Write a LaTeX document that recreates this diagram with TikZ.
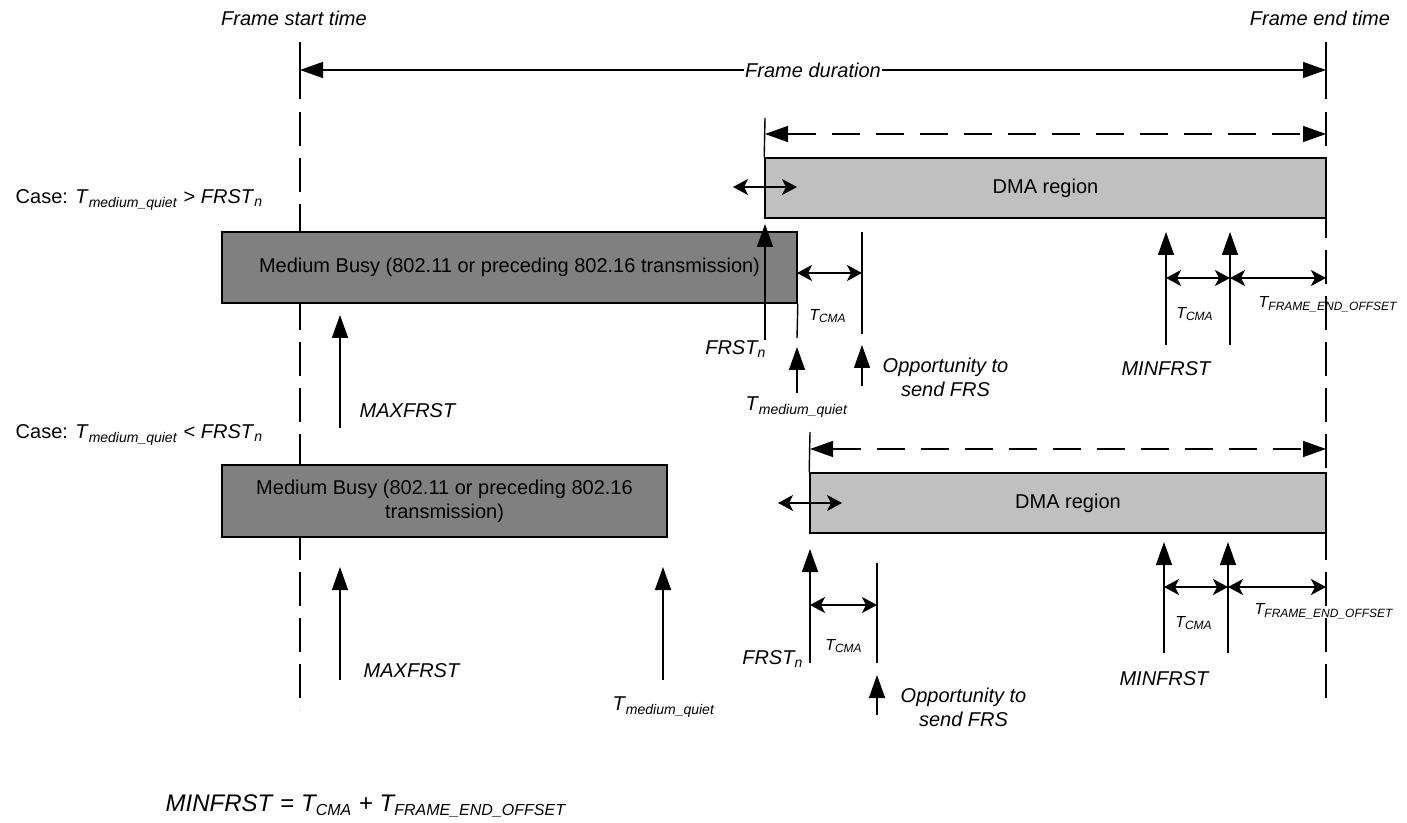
\documentclass[tikz,border=0pt]{standalone}
\usepackage{fontspec}
\setmainfont{Liberation Sans}
\usetikzlibrary{arrows.meta}
\definecolor{busygray}{HTML}{808080}
\definecolor{dmagray}{HTML}{C0C0C0}
\newcommand{\Tmq}{\textit{T}\textsubscript{\textit{medium\_quiet}}}
\newcommand{\Tcma}{\textit{T}\textsubscript{\textit{CMA}}}
\newcommand{\Tfeo}{\textit{T}\textsubscript{\textit{FRAME\_END\_OFFSET}}}

\begin{document}
\begin{tikzpicture}[x=0.5pt,y=-0.5pt,line width=0.7pt,
    marker/.style={-{Triangle[length=11.5pt,width=8pt]}},
    duration/.style={{Triangle[length=11.5pt,width=8pt]}-{Triangle[length=11.5pt,width=8pt]}},
    span/.style={{Stealth[length=7.5pt,width=8pt,inset=2pt]}-{Stealth[length=7.5pt,width=8pt,inset=2pt]}},
    frameline/.style={dash pattern=on 17pt off 6pt},
    busy/.style={draw,line width=0.8pt,fill=busygray,inner sep=0pt,align=center},
    dma/.style={draw,line width=0.8pt,fill=dmagray,inner sep=0pt},
    lbl/.style={font=\itshape,inner sep=0pt},
    small lbl/.style={font=\footnotesize\itshape,inner sep=0pt},
  ]
\useasboundingbox (0,0) rectangle (1407,823);

\coordinate (fs top) at (300,42);
\coordinate (fs tick) at (300,99);
\coordinate (fs dash) at (300,112);
\coordinate (fs bot) at (300,710);
\coordinate (fe top) at (1326,42);
\coordinate (fe tick) at (1326,99);
\coordinate (fe dash) at (1326,112);
\coordinate (fe bot) at (1326,706);
\coordinate (fs dur) at (300,70);
\coordinate (fe dur) at (1326,70);

\draw (fs top) -- (fs tick);
\draw[frameline] (fs dash) -- (fs bot);
\draw (fe top) -- (fe tick);
\draw[frameline] (fe dash) -- (fe bot);

\node[lbl] (start) at (294,18) {Frame start time};
\node[lbl] (end) at (1320,18) {Frame end time};
\draw[duration] (fs dur) -- node[lbl,fill=white,inner sep=0.5pt] (dur) {Frame duration} (fe dur);

% case 1
\node[anchor=west,inner sep=0pt] (caseA) at (15,200) {Case: \Tmq{} > \textit{FRST}\textsubscript{\textit{n}}};
\node[dma,minimum width=280.5pt,minimum height=30pt] (dmaA) at (1045.5,188) {DMA region};
\node[busy,minimum width=287.5pt,minimum height=35.5pt] (busyA) at (509.5,267.5) {Medium Busy (802.11 or preceding 802.16 transmission)};

\coordinate (dmaA tick) at (765,118);
\coordinate (dmaA l) at (765,134);
\coordinate (dmaA r) at (1326,134);
\coordinate (jitA l) at (733,187);
\coordinate (jitA r) at (797,187);
\coordinate (frstA) at (765,340);
\coordinate (frstA tip) at (765,224);
\coordinate (busyA tick) at (797,338);
\coordinate (cmaA l) at (797,273);
\coordinate (cmaA r) at (862,273);
\coordinate (cmaA top) at (862,232);
\coordinate (cmaA bot) at (862,334);
\coordinate (tqA) at (797,393);
\coordinate (tqA tip) at (797,347);
\coordinate (oppA) at (862,386);
\coordinate (oppA tip) at (862,345);
\coordinate (minA) at (1166,345);
\coordinate (minA tip) at (1166,232);
\coordinate (offA) at (1230,345);
\coordinate (offA tip) at (1230,232);
\coordinate (endA l) at (1166,278);
\coordinate (endA m) at (1230,278);
\coordinate (endA r) at (1326,278);
\coordinate (maxA) at (340,428);
\coordinate (maxA tip) at (340,315);

\draw (dmaA.north west) -- (dmaA tick);
\draw[duration,dash pattern=on 14pt off 8pt] (dmaA l) -- (dmaA r);
\draw[span] (jitA l) -- (jitA r);
\draw[marker] (frstA) -- (frstA tip);
\draw (busyA.south east) -- (busyA tick);
\draw[span] (cmaA l) -- (cmaA r);
\draw (cmaA top) -- (cmaA bot);
\draw[marker] (tqA) -- (tqA tip);
\draw[marker] (oppA) -- (oppA tip);
\draw[marker] (minA) -- (minA tip);
\draw[marker] (offA) -- (offA tip);
\draw[span] (endA l) -- (endA m);
\draw[span] (endA m) -- (endA r);
\draw[marker] (maxA) -- (maxA tip);

\node[lbl,anchor=east] (frstA lbl) at (767,349) {FRST\textsubscript{n}};
\node[small lbl] (cmaA lbl) at (828,316) {\Tcma};
\node (tqA lbl) at (797,407) {\Tmq};
\node[lbl,anchor=west,align=center] (oppA lbl) at (882,377) {Opportunity to\\send FRS};
\node[small lbl] (cmaB lbl) at (1195,314) {\Tcma};
\node[small lbl,anchor=west] (feoA lbl) at (1258,304) {\Tfeo};
\node[lbl] (minA lbl) at (1166,369) {MINFRST};
\node[lbl,anchor=west] (maxA lbl) at (359,411) {MAXFRST};

% case 2
\node[anchor=west,inner sep=0pt] (caseB) at (15,435) {Case: \Tmq{} < \textit{FRST}\textsubscript{\textit{n}}};
\node[dma,minimum width=258pt,minimum height=30pt] (dmaB) at (1068,503) {DMA region};
\node[busy,minimum width=222.5pt,minimum height=36pt] (busyB) at (444.5,501) {Medium Busy (802.11 or preceding 802.16\\transmission)};

\coordinate (dmaB tick) at (810,432);
\coordinate (dmaB l) at (810,449);
\coordinate (dmaB r) at (1326,449);
\coordinate (jitB l) at (778,503);
\coordinate (jitB r) at (842,503);
\coordinate (frstB) at (810,663);
\coordinate (frstB tip) at (810,549);
\coordinate (cmaC l) at (810,605);
\coordinate (cmaC r) at (877,605);
\coordinate (cmaC top) at (877,563);
\coordinate (cmaC bot) at (877,663);
\coordinate (oppB) at (877,715);
\coordinate (oppB tip) at (877,675);
\coordinate (minB) at (1164,653);
\coordinate (minB tip) at (1164,542);
\coordinate (offB) at (1228,653);
\coordinate (offB tip) at (1228,542);
\coordinate (endB l) at (1164,587);
\coordinate (endB m) at (1228,587);
\coordinate (endB r) at (1326,587);
\coordinate (maxB) at (340,680);
\coordinate (maxB tip) at (340,567);
\coordinate (tqB) at (663,680);
\coordinate (tqB tip) at (663,567);

\draw (dmaB.north west) -- (dmaB tick);
\draw[duration,dash pattern=on 14pt off 8pt] (dmaB l) -- (dmaB r);
\draw[span] (jitB l) -- (jitB r);
\draw[marker] (frstB) -- (frstB tip);
\draw[span] (cmaC l) -- (cmaC r);
\draw (cmaC top) -- (cmaC bot);
\draw[marker] (oppB) -- (oppB tip);
\draw[marker] (minB) -- (minB tip);
\draw[marker] (offB) -- (offB tip);
\draw[span] (endB l) -- (endB m);
\draw[span] (endB m) -- (endB r);
\draw[marker] (maxB) -- (maxB tip);
\draw[marker] (tqB) -- (tqB tip);

\node[lbl,anchor=east] (frstB lbl) at (804,659) {FRST\textsubscript{n}};
\node[small lbl] (cmaC lbl) at (844,646) {\Tcma};
\node[lbl,anchor=west,align=center] (oppB lbl) at (900,707) {Opportunity to\\send FRS};
\node[small lbl] (cmaD lbl) at (1194,623) {\Tcma};
\node[small lbl,anchor=west] (feoB lbl) at (1254,611) {\Tfeo};
\node[lbl] (minB lbl) at (1164,679) {MINFRST};
\node[lbl,anchor=west] (maxB lbl) at (363,671) {MAXFRST};
\node (tqB lbl) at (664,707) {\Tmq};

\node[anchor=west,inner sep=0pt,font=\fontsize{12}{14}\selectfont\itshape] (formula) at (165,806) {MINFRST \textup{=} T\textsubscript{CMA} \textup{+} T\textsubscript{FRAME\_END\_OFFSET}};
\end{tikzpicture}
\end{document}
